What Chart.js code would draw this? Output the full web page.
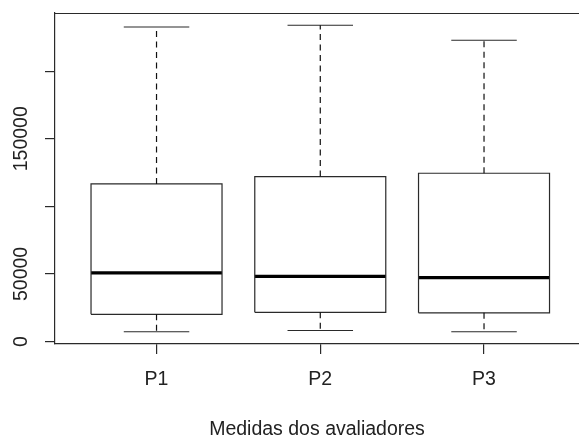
<!DOCTYPE html>
<html>
<head>
<meta charset="utf-8">
<script src="https://cdn.jsdelivr.net/npm/chart.js@4/dist/chart.umd.min.js"></script>
<style>
  html, body { margin: 0; padding: 0; background: #ffffff; overflow: hidden; }
  #wrap { width: 579px; height: 436px; }
</style>
</head>
<body>
<div id="wrap"><canvas id="chart" width="579" height="436"></canvas></div>
<script>
// Five-number summaries per evaluator
const categories = ['P1', 'P2', 'P3'];
const lowerWhisker = [7200, 8100, 7200];
const firstQuartile = [20100, 21600, 21200];
const medians = [50700, 48200, 47200];
const thirdQuartile = [116600, 122000, 124500];
const upperWhisker = [232700, 234000, 222900];

// Y-axis ticks; labels that would collide are left blank
const yTickValues = [0, 50000, 100000, 150000, 200000];
const yTickLabels = ['0', '50000', '', '150000', ''];

const xTitle = 'Medidas dos avaliadores';

const FONT = '"Liberation Sans", Arial, sans-serif';
const FONT_SIZE = 19.5;
const INK = '#222222';
const LINE = '#2a2a2a';
const BOX_HALF = 0.4;
const CAP_HALF = 0.2;

// y range padded by 4% on each side
const lo = Math.min(...lowerWhisker);
const hi = Math.max(...upperWhisker);
const pad = 0.04 * (hi - lo);

function gap(x) { return { x: x, y: null }; }

const boxPts = [], medianPts = [], whiskerPts = [], capPts = [];
categories.forEach((c, i) => {
  const x = i + 1;
  boxPts.push(
    { x: x - BOX_HALF, y: firstQuartile[i] },
    { x: x + BOX_HALF, y: firstQuartile[i] },
    { x: x + BOX_HALF, y: thirdQuartile[i] },
    { x: x - BOX_HALF, y: thirdQuartile[i] },
    { x: x - BOX_HALF, y: firstQuartile[i] },
    gap(x)
  );
  medianPts.push(
    { x: x - BOX_HALF, y: medians[i] },
    { x: x + BOX_HALF, y: medians[i] },
    gap(x)
  );
  whiskerPts.push(
    { x: x, y: thirdQuartile[i] }, { x: x, y: upperWhisker[i] }, gap(x),
    { x: x, y: firstQuartile[i] }, { x: x, y: lowerWhisker[i] }, gap(x)
  );
  capPts.push(
    { x: x - CAP_HALF, y: upperWhisker[i] }, { x: x + CAP_HALF, y: upperWhisker[i] }, gap(x),
    { x: x - CAP_HALF, y: lowerWhisker[i] }, { x: x + CAP_HALF, y: lowerWhisker[i] }, gap(x)
  );
});

function lineSet(data, color, width, dash) {
  return {
    type: 'line',
    data: data,
    borderColor: color,
    backgroundColor: 'transparent',
    borderWidth: width,
    borderDash: dash || [],
    borderCapStyle: 'butt',
    borderJoinStyle: 'miter',
    pointRadius: 0,
    pointHoverRadius: 0,
    spanGaps: false,
    fill: false,
    tension: 0
  };
}

// Frame top edge and rotated y tick labels
const framePlugin = {
  id: 'frameAndYLabels',
  afterDraw(chart) {
    const { ctx, chartArea, scales } = chart;
    ctx.save();
    ctx.strokeStyle = LINE;
    ctx.lineWidth = 1;
    ctx.beginPath();
    ctx.moveTo(chartArea.left, Math.round(chartArea.top) + 0.5);
    ctx.lineTo(chartArea.right, Math.round(chartArea.top) + 0.5);
    ctx.stroke();

    ctx.fillStyle = INK;
    ctx.font = FONT_SIZE + 'px ' + FONT;
    ctx.textAlign = 'center';
    ctx.textBaseline = 'alphabetic';
    yTickValues.forEach((v, i) => {
      if (!yTickLabels[i]) return;
      const py = scales.y.getPixelForValue(v);
      ctx.save();
      ctx.translate(27, py);
      ctx.rotate(-Math.PI / 2);
      ctx.fillText(yTickLabels[i], 0, 0);
      ctx.restore();
    });
    ctx.restore();
  }
};

new Chart(document.getElementById('chart'), {
  type: 'scatter',
  data: {
    datasets: [
      lineSet(whiskerPts, '#111111', 1.2, [6, 4.5]),
      lineSet(capPts, LINE, 1.2),
      lineSet(boxPts, LINE, 1.2),
      lineSet(medianPts, '#000000', 3.3)
    ]
  },
  options: {
    responsive: false,
    devicePixelRatio: 1,
    animation: false,
    events: [],
    layout: { padding: { top: 13, right: 0, bottom: 0, left: 0 } },
    plugins: { legend: { display: false }, tooltip: { enabled: false } },
    scales: {
      x: {
        type: 'linear',
        min: 0.38,
        max: 3.58,
        afterBuildTicks(scale) { scale.ticks = categories.map((c, i) => ({ value: i + 1 })); },
        afterFit(scale) { scale.height = 92; },
        ticks: {
          callback: (v) => categories[Math.round(v) - 1] || '',
          color: INK,
          font: { family: FONT, size: FONT_SIZE },
          padding: 14,
          maxRotation: 0,
          autoSkip: false
        },
        grid: { display: true, drawOnChartArea: false, drawTicks: true, tickLength: 10, color: LINE, lineWidth: 1.2 },
        border: { display: true, color: LINE, width: 1.2 },
        title: {
          display: true,
          text: xTitle,
          color: INK,
          font: { family: FONT, size: FONT_SIZE, lineHeight: 1 },
          padding: { top: 0, bottom: -3 }
        }
      },
      y: {
        type: 'linear',
        min: lo - pad,
        max: hi + pad,
        afterBuildTicks(scale) { scale.ticks = yTickValues.map(v => ({ value: v })); },
        afterFit(scale) { scale.width = 55; },
        ticks: { callback: () => '', padding: 0 },
        grid: { display: true, drawOnChartArea: false, drawTicks: true, tickLength: 10, color: LINE, lineWidth: 1.2 },
        border: { display: true, color: LINE, width: 1.2 }
      }
    }
  },
  plugins: [framePlugin]
});
</script>
</body>
</html>
